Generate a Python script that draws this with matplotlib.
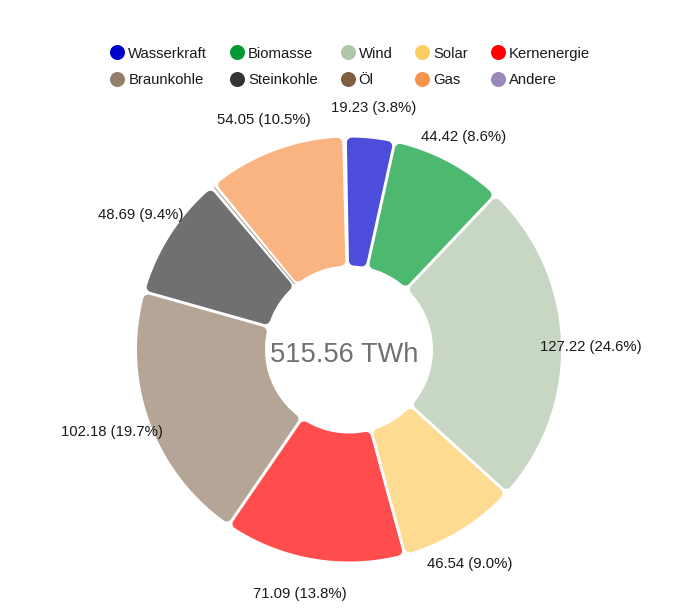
import numpy as np
import matplotlib
matplotlib.use("Agg")
import matplotlib.pyplot as plt
from matplotlib.patches import Polygon
from matplotlib.lines import Line2D
from matplotlib.colors import to_rgb

# ---------------- data ----------------
categories = ["Wasserkraft", "Biomasse", "Wind", "Solar", "Kernenergie",
              "Braunkohle", "Steinkohle", "Öl", "Gas", "Andere"]
values = [19.23, 44.42, 127.22, 46.54, 71.09, 102.18, 48.69, 1.50, 54.05, 0.64]
pct_labels = ["3.8", "8.6", "24.6", "9.0", "13.8", "19.7", "9.4", "", "10.5", ""]
colors = ["#0000CC", "#009933", "#B0C6A9", "#FCCD62", "#FF0000",
          "#947E69", "#333333", "#7F5F3F", "#F8944C", "#9B88BB"]
unit = "TWh"

# ---------------- style ----------------
FONT = "Liberation Sans"
plt.rcParams["font.family"] = [FONT, "DejaVu Sans"]
PX = 0.72  # points per pixel at 100 dpi
ALPHA = 0.7

fig = plt.figure(figsize=(7.0, 6.11), dpi=100)
ax = fig.add_axes([0, 0, 1, 1])
ax.set_xlim(0, 700)
ax.set_ylim(0, 611)
ax.axis("off")

cx, cy = 349.0, 611 - 349.5
R_OUT, R_IN = 212.0, 84.0
GAP, RC = 3.0, 5.0
START = 91.0
# data labels
LAB_CX, LAB_CY = 345.0, 611 - 352.0
LABEL_R = 246.0
LAB_START = 90.0


def blend(c, a=ALPHA):
    rgb = np.array(to_rgb(c))
    return tuple(a * rgb + (1 - a) * 1.0)


def sector_points(t_lo, t_hi, rin, rout, d, n=80):
    ao = np.arcsin(min(d / rout, 1.0))
    ai = np.arcsin(min(d / rin, 1.0))
    a1o, a2o = t_lo + ao, t_hi - ao
    a1i, a2i = t_lo + ai, t_hi - ai
    if a2o <= a1o or a2i <= a1i:
        return None
    outer = np.linspace(a1o, a2o, n)
    inner = np.linspace(a2i, a1i, n)
    xs = np.concatenate([cx + rout * np.cos(outer), cx + rin * np.cos(inner)])
    ys = np.concatenate([cy + rout * np.sin(outer), cy + rin * np.sin(inner)])
    return np.column_stack([xs, ys])


total = float(np.sum(values))
cum = np.concatenate([[0.0], np.cumsum(values)])
for i, v in enumerate(values):
    t_hi = np.deg2rad(START - cum[i] / total * 360.0)
    t_lo = np.deg2rad(START - cum[i + 1] / total * 360.0)
    col = blend(colors[i])
    pts = sector_points(t_lo, t_hi, R_IN + RC, R_OUT - RC, GAP / 2 + RC)
    if pts is not None:
        ax.add_patch(Polygon(pts, closed=True, facecolor=col, edgecolor=col,
                             linewidth=2 * RC * PX, joinstyle="round"))
    else:
        # very thin slice: constant width sliver
        width = (t_hi - t_lo) * R_OUT - GAP
        if width > 0.3:
            tm = 0.5 * (t_lo + t_hi)
            ux, uy = np.cos(tm), np.sin(tm)
            px_, py_ = -uy * width / 2, ux * width / 2
            r0, r1 = R_IN + 1, R_OUT - 1
            pts = np.array([[cx + r0 * ux + px_, cy + r0 * uy + py_],
                            [cx + r1 * ux + px_, cy + r1 * uy + py_],
                            [cx + r1 * ux - px_, cy + r1 * uy - py_],
                            [cx + r0 * ux - px_, cy + r0 * uy - py_]])
            ax.add_patch(Polygon(pts, closed=True, facecolor=col,
                                 edgecolor="none"))
    if pct_labels[i]:
        tm = np.deg2rad(LAB_START - (cum[i] + cum[i + 1]) / 2 / total * 360.0)
        ax.text(LAB_CX + LABEL_R * np.cos(tm), LAB_CY + LABEL_R * np.sin(tm),
                f"{v:.2f} ({pct_labels[i]}%)", ha="center", va="center",
                fontsize=10.7, color="#1a1a1a", family=[FONT, "DejaVu Sans"])

ax.text(cx - 5, cy - 6, f"{total:.2f} {unit}", ha="center", va="center",
        fontsize=19.6, color="#707070", family=[FONT, "DejaVu Sans"])

# ---------------- legend ----------------
handles = [Line2D([0], [0], marker="o", linestyle="", markersize=15 * PX,
                  markerfacecolor=c, markeredgecolor=c, markeredgewidth=0)
           for c in colors]
ncol = 5
order = [r * ncol + c for c in range(ncol) for r in range(2)]
fig.legend([handles[k] for k in order], [categories[k] for k in order],
           ncol=ncol, loc="center", bbox_to_anchor=(350 / 700, 1 - 67 / 611),
           frameon=False, prop={"family": FONT, "size": 10.7},
           handlelength=1.0, handletextpad=0.25, columnspacing=1.5,
           labelspacing=0.85, borderpad=0, borderaxespad=0,
           labelcolor="#1a1a1a")

fig.savefig("out.png", dpi=100)
